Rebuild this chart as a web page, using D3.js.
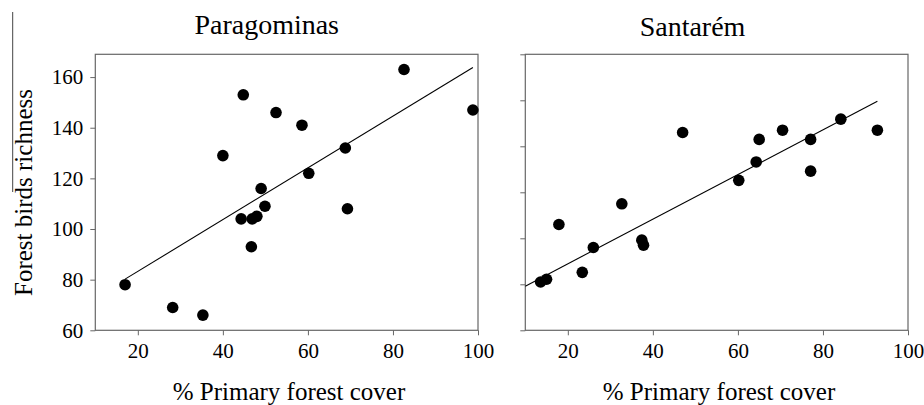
<!DOCTYPE html>
<html>
<head>
<meta charset="utf-8">
<script src="https://cdn.jsdelivr.net/npm/d3@7"></script>
<style>
  body { margin: 0; background: #fff; }
  text { font-family: "Liberation Serif", "Times New Roman", serif; fill: #000; }
</style>
</head>
<body>
<div id="chart"></div>
<script>
// values
const xTicks = [20, 40, 60, 80, 100];

const paragominasCover    = [17, 28.2, 35.3, 40, 44.3, 44.8, 46.7, 46.9, 48, 49, 49.9, 52.5, 58.6, 60.2, 68.8, 69.3, 82.6, 98.8];
const paragominasRichness = [78, 69, 66, 129, 104, 153, 93, 104, 105, 116, 109, 146, 141, 122, 132, 108, 163, 147];
const paragominasFitX = [17, 98.8];
const paragominasFitY = [80.2, 163.8];
const paragominasYTicks = [60, 80, 100, 120, 140, 160];

const santaremCover    = [13.6, 15.0, 17.9, 23.4, 26.0, 32.7, 37.4, 37.8, 47.0, 60.2, 64.3, 65.0, 70.5, 77.1, 77.1, 84.2, 92.8];
const santaremRichness = [50.5, 51.1, 63, 52.6, 58, 67.5, 59.6, 58.5, 83, 72.6, 76.6, 81.5, 83.5, 81.5, 74.6, 85.9, 83.5];
const santaremFitX = [10, 92.8];
const santaremFitY = [49.6, 89.8];
const santaremYTicks = [40, 50, 60, 70, 80, 90, 100];

const width = 924;
const height = 405;

const svg = d3.select("#chart")
    .append("svg")
    .attr("width", width)
    .attr("height", height)
    .attr("viewBox", `0 0 ${width} ${height}`);

const plotTop = 54.3, plotBottom = 330.3;

drawPanel({
  title: "Paragominas", titleX: 266.7, titleY: 33.5,
  left: 95.3, right: 478,
  xDomain: [10, 100], yDomain: [60, 169],
  xs: paragominasCover, ys: paragominasRichness,
  fitX: paragominasFitX, fitY: paragominasFitY,
  yTicks: paragominasYTicks, yLabels: true, xTitleX: 289
});

drawPanel({
  title: "Santarém", titleX: 692.5, titleY: 36,
  left: 525.3, right: 908,
  xDomain: [10, 100], yDomain: [40, 100],
  xs: santaremCover, ys: santaremRichness,
  fitX: santaremFitX, fitY: santaremFitY,
  yTicks: santaremYTicks, yLabels: false, xTitleX: 719
});

// y axis title
svg.append("text")
   .attr("transform", "translate(32,192.5) rotate(-90)")
   .attr("text-anchor", "middle")
   .style("font-size", "25px")
   .text("Forest birds richness");

// stray rule at the far left of the original figure
svg.append("line")
   .attr("x1", 12.7).attr("x2", 12.7)
   .attr("y1", 12).attr("y2", 192)
   .attr("stroke", "#444")
   .attr("stroke-width", 1);

function drawPanel(p){
  const x = d3.scaleLinear().domain(p.xDomain).range([p.left, p.right]);
  const y = d3.scaleLinear().domain(p.yDomain).range([plotBottom, plotTop]);

  const g = svg.append("g");

  const xAxis = g.append("g")
     .attr("transform", `translate(0,${plotBottom})`)
     .call(d3.axisBottom(x).tickValues(xTicks).tickSize(5).tickPadding(8).tickFormat(d3.format("d")));
  xAxis.select(".domain").remove();
  xAxis.selectAll("line").attr("stroke", "#666");
  xAxis.selectAll("text").style("font-size", "21px").style("font-family", "Liberation Serif, serif");

  const yAxis = g.append("g")
     .attr("transform", `translate(${p.left},0)`)
     .call(d3.axisLeft(y).tickValues(p.yTicks).tickSize(5).tickPadding(7)
             .tickFormat(p.yLabels ? d3.format("d") : () => ""));
  yAxis.select(".domain").remove();
  yAxis.selectAll("line").attr("stroke", "#666");
  yAxis.selectAll("text").style("font-size", "21px").style("font-family", "Liberation Serif, serif");

  // frame
  g.append("rect")
   .attr("x", p.left)
   .attr("y", plotTop)
   .attr("width", p.right - p.left)
   .attr("height", plotBottom - plotTop)
   .attr("fill", "none")
   .attr("stroke", "#666")
   .attr("stroke-width", 1.2);

  // fitted line
  g.append("line")
   .attr("x1", x(p.fitX[0])).attr("y1", y(p.fitY[0]))
   .attr("x2", x(p.fitX[1])).attr("y2", y(p.fitY[1]))
   .attr("stroke", "#000")
   .attr("stroke-width", 1.1);

  g.selectAll("circle.dot")
   .data(p.xs.map((v, i) => [v, p.ys[i]]))
   .enter()
   .append("circle")
   .attr("class", "dot")
   .attr("cx", d => x(d[0]))
   .attr("cy", d => y(d[1]))
   .attr("r", 5.8)
   .attr("fill", "#000");

  svg.append("text")
     .attr("x", p.titleX)
     .attr("y", p.titleY)
     .attr("text-anchor", "middle")
     .style("font-size", "28px")
     .text(p.title);

  svg.append("text")
     .attr("x", p.xTitleX)
     .attr("y", 400)
     .attr("text-anchor", "middle")
     .style("font-size", "25px")
     .text("% Primary forest cover");
}
</script>
</body>
</html>
